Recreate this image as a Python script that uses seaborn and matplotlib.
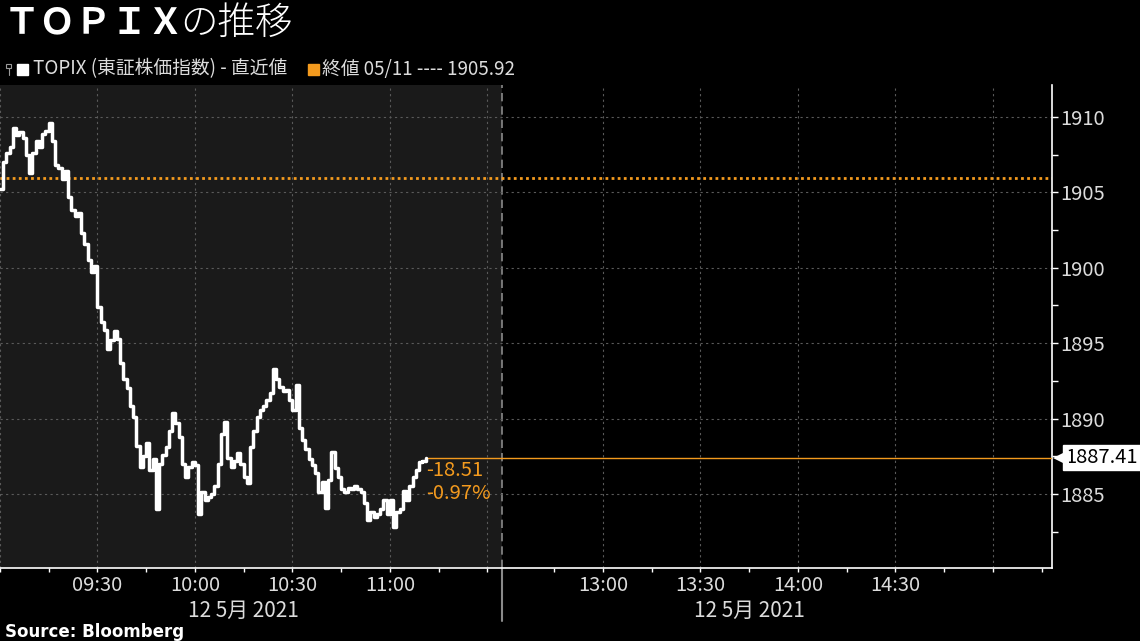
import numpy as np
import pandas as pd
import matplotlib
matplotlib.use("Agg")
import matplotlib.pyplot as plt
import seaborn as sns
from matplotlib.patches import Rectangle
from matplotlib.lines import Line2D
from matplotlib.ticker import FixedLocator, MultipleLocator
from matplotlib.transforms import offset_copy

# TOPIX intraday, one value per minute from 09:00
minutes = list(range(132))
topix = [
    1905.2, 1907.0, 1907.6, 1908.0, 1909.3, 1908.8, 1909.0, 1908.6, 1907.5, 1906.3,
    1907.6, 1908.4, 1908.0, 1908.9, 1909.1, 1909.6, 1908.4, 1906.8, 1906.6, 1905.9,
    1906.4, 1904.7, 1903.8, 1903.4, 1903.6, 1902.3, 1901.6, 1900.5, 1899.7, 1900.1,
    1897.4, 1896.4, 1895.9, 1894.6, 1895.2, 1895.8, 1895.3, 1893.7, 1892.6, 1892.0,
    1890.8, 1890.1, 1888.2, 1886.8, 1887.5, 1888.4, 1886.6, 1887.3, 1884.0, 1887.0,
    1887.6, 1888.1, 1889.2, 1890.4, 1889.7, 1888.8, 1887.0, 1886.1, 1886.8, 1887.1,
    1886.9, 1883.7, 1885.1, 1884.6, 1884.8, 1885.0, 1885.5, 1887.0, 1889.0, 1889.8,
    1887.4, 1886.8, 1887.2, 1887.7, 1887.0, 1886.1, 1885.7, 1888.1, 1889.2, 1890.1,
    1890.6, 1890.8, 1891.2, 1891.7, 1893.3, 1892.6, 1892.1, 1891.8, 1891.9, 1891.2,
    1890.6, 1892.2, 1889.4, 1888.6, 1888.0, 1887.3, 1886.9, 1886.4, 1885.1, 1885.8,
    1884.1, 1885.9, 1887.8, 1886.7, 1886.1, 1885.3, 1885.1, 1885.4, 1885.3, 1885.5,
    1885.3, 1885.1, 1884.4, 1883.3, 1883.8, 1883.5, 1883.7, 1884.0, 1884.6, 1883.7,
    1884.6, 1882.8, 1883.8, 1884.0, 1885.2, 1884.6, 1885.5, 1886.1, 1886.6, 1887.1,
    1887.2, 1887.41,
]
prev_close = 1905.92
prev_date = "05/11"
date_label = "12 5月 2021"

major_times = ["09:00", "09:30", "10:00", "10:30", "11:00", "11:30",
               "13:00", "13:30", "14:00", "14:30", "15:00"]
shown_labels = ["", "09:30", "10:00", "10:30", "11:00", "",
                "13:00", "13:30", "14:00", "14:30", ""]
minor_times = ["09:15", "09:45", "10:15", "10:45", "11:15",
               "12:45", "13:15", "13:45", "14:15", "14:45", "15:15"]


# lunch break is squeezed: afternoon session starts right after the divider
def to_pos(t):
    h, m = map(int, t.split(":"))
    mins = h * 60 + m
    if mins <= 11 * 60 + 30:
        return mins - 9 * 60
    return 155.5 + mins - (12 * 60 + 30)


split_pos = 154.5
right_pos = 323.7

df = pd.DataFrame({"pos": minutes, "value": topix})
last = topix[-1]
change = last - prev_close
change_pct = change / prev_close * 100

orange = "#f39a1e"
grey_txt = "#dcdcdc"
tick_fs = 14.5

sns.set_theme(style="dark")
plt.rcParams["font.family"] = ["Noto Sans CJK JP", "DejaVu Sans"]

fig = plt.figure(figsize=(11.4, 6.41), dpi=100, facecolor="black")
ax = fig.add_axes([0, 0.1139, 0.9228, 0.7535], facecolor="black")

# shaded morning session and session divider
ax.axvspan(0, split_pos, color="#1a1a1a", zorder=0, lw=0)
ax.axvline(split_pos, color="#8a8a8a", lw=1.2, ls=(0, (5, 3)), zorder=1)

# grid
for t in major_times:
    ax.axvline(to_pos(t), color="#5a5a5a", lw=0.8, ls=(0, (2, 3)), zorder=1)
for v in range(1885, 1911, 5):
    ax.axhline(v, color="#5a5a5a", lw=0.8, ls=(0, (2, 3)), zorder=1)

# previous close
ax.axhline(prev_close, color=orange, lw=2, ls=(0, (1, 1.2)), zorder=2)

sns.lineplot(data=df, x="pos", y="value", color="white", lw=2.5,
             drawstyle="steps-post", ax=ax, zorder=4)

# last value line
ax.plot([df["pos"].iloc[-1], right_pos], [last, last], color=orange, lw=1, zorder=3)

ax.annotate(f"{change:.2f}", xy=(df["pos"].iloc[-1], last), xytext=(0, -9),
            textcoords="offset points", color=orange, fontsize=14.5,
            ha="left", va="center")
ax.annotate(f"{change_pct:.2f}%", xy=(df["pos"].iloc[-1], last), xytext=(0, -26),
            textcoords="offset points", color=orange, fontsize=14.5,
            ha="left", va="center")

ax.set_xlim(0, right_pos)
ax.set_ylim(1880.09, 1912.12)

# axes styling
for s in ["top", "left"]:
    ax.spines[s].set_visible(False)
for s in ["right", "bottom"]:
    ax.spines[s].set_visible(True)
    ax.spines[s].set_color("white")
    ax.spines[s].set_linewidth(1.2)

ax.yaxis.tick_right()
ax.yaxis.set_major_locator(MultipleLocator(5))
ax.yaxis.set_minor_locator(MultipleLocator(2.5))
ax.tick_params(axis="y", which="both", direction="out", length=4, width=1,
               color="white", labelcolor=grey_txt, labelsize=tick_fs, pad=2,
               left=False, right=True)

ax.xaxis.set_major_locator(FixedLocator([to_pos(t) for t in major_times]))
ax.xaxis.set_minor_locator(FixedLocator([to_pos(t) for t in minor_times]))
ax.set_xticklabels(shown_labels)
ax.tick_params(axis="x", which="both", direction="out", length=3, width=1,
               color="white", labelcolor=grey_txt, labelsize=tick_fs, pad=2,
               bottom=True)
ax.set_xlabel("")
ax.set_ylabel("")
ax.grid(False)

# date labels under each session + divider below the axis
xt = ax.get_xaxis_transform()
am_mid = (to_pos("09:30") + to_pos("11:00")) / 2
pm_mid = (to_pos("13:00") + to_pos("14:30")) / 2
for mid in (am_mid, pm_mid):
    ax.text(mid, -0.088, date_label, transform=xt, ha="center", va="center",
            color=grey_txt, fontsize=tick_fs + 0.5)
ax.plot([split_pos, split_pos], [0, -0.11], transform=xt, color="#8a8a8a",
        lw=1.5, clip_on=False)

# last value tag on the right axis
yt = ax.get_yaxis_transform()
ax.plot([1.0], [last], transform=offset_copy(yt, fig=fig, x=6.5, y=0, units="points"),
        marker="<", color="white", ms=12, mew=0, clip_on=False, zorder=6)
ax.annotate(f"{last:.2f}", xy=(1, last), xycoords=("axes fraction", "data"),
            xytext=(9.5, 0), textcoords="offset points", color="black",
            fontsize=tick_fs, ha="left", va="center", annotation_clip=False,
            bbox=dict(boxstyle="square,pad=0.1", fc="white", ec="white"))

# title, legend row, source
W, H = 1140, 641
fig.text(4 / W, 1 - 23 / H, "ＴＯＰＩＸ", color="white", fontsize=26,
         fontweight="bold", va="center", ha="left")
fig.text(180 / W, 1 - 23 / H, "の推移", color="white", fontsize=27,
         fontweight="light", va="center", ha="left")

# small pin icon in front of the legend row
fig.patches.append(Rectangle((6 / W, 1 - 68 / H), 5 / W, 4 / H, transform=fig.transFigure,
                             fill=False, ec="#9a9a9a", lw=0.8))
fig.lines.append(Line2D([8.5 / W, 8.5 / W], [1 - 68 / H, 1 - 75 / H],
                        transform=fig.transFigure, color="#9a9a9a", lw=0.8))

fig.patches.append(Rectangle((17 / W, 1 - 75 / H), 11 / W, 11 / H,
                             transform=fig.transFigure, color="white"))
fig.text(33 / W, 1 - 69 / H, "TOPIX (東証株価指数) - 直近値", color=grey_txt,
         fontsize=13.5, va="center", ha="left")
fig.patches.append(Rectangle((308 / W, 1 - 75 / H), 11 / W, 11 / H,
                             transform=fig.transFigure, color=orange))
fig.text(322 / W, 1 - 69 / H, f"終値 {prev_date} ---- {prev_close:.2f}",
         color=grey_txt, fontsize=13.5, va="center", ha="left")

fig.text(5 / W, 1 - 632 / H, "Source: Bloomberg", color="white", fontsize=12,
         fontweight="bold", va="center", ha="left", family=["DejaVu Sans"])

fig.savefig("out.png", dpi=100, facecolor="black")
